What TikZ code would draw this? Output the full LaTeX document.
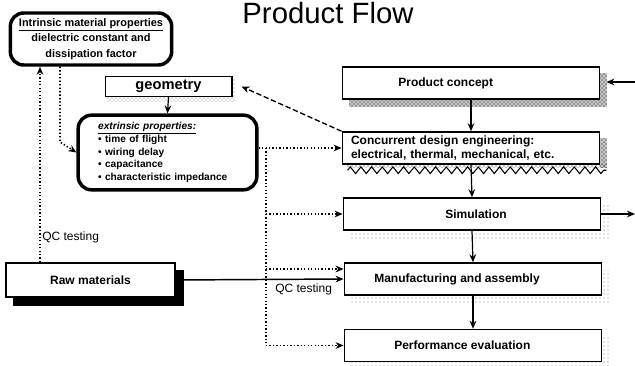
\documentclass[tikz,border=0pt]{standalone}
\usepackage{fontspec}
\setmainfont{Liberation Sans}
\usetikzlibrary{arrows.meta,patterns,calc,backgrounds,decorations.pathmorphing}

\begin{document}
\begin{tikzpicture}[x=0.75pt,y=0.75pt,yscale=-1,xscale=1,
    flowbox/.style={draw, line width=1.1pt, fill=white, minimum width=193pt, minimum height=24pt, inner sep=0pt, font=\bfseries\fontsize{9}{11}\selectfont},
    propbox/.style={draw, line width=2.6pt, rounded corners=10pt, fill=white, inner sep=0pt, font=\bfseries\fontsize{8.2}{11.5}\selectfont},
    qcline/.style={line width=1.2pt, dash pattern=on 1pt off 1.6pt},
    tip/.style={-{Stealth[length=6pt,width=5pt]}}]
    \path[use as bounding box] (0,0) rectangle (635,366);

    % Text Node
    \node (title) at (328,13) {\fontsize{22}{24}\selectfont Product Flow};

    %Shape: Rounded Rect
    \node (intr) [propbox, minimum width=121pt, minimum height=39pt, align=center] at (91,39)
        {\underline{Intrinsic material properties}\\dielectric constant and\\dissipation factor};
    %Shape: Rectangle
    \node (geo) [draw, line width=1pt, fill=white, minimum width=95pt, minimum height=15pt, inner sep=0pt, font=\bfseries\fontsize{11}{12}\selectfont] at (168.5,86.5) {geometry};
    %Shape: Rounded Rect
    \node (extr) [propbox, text width=104pt, inner xsep=15pt, minimum height=56pt, align=left, font=\bfseries\fontsize{7.6}{9.6}\selectfont] at (167.5,152.5)
        {\underline{\textit{extrinsic properties:}}\\\textbullet{} time of flight\\\textbullet{} wiring delay\\\textbullet{} capacitance\\\textbullet{} characteristic impedance};
    %Shape: Rectangle
    \node (raw) [flowbox, minimum width=127pt, minimum height=25.5pt] at (90.5,280) {Raw materials};

    %Shape: Rectangle
    \node (pc) [flowbox] at (471,83) {\hspace*{-38pt}Product concept};
    \node (cde) [flowbox, align=left, text width=180pt] at (471,148) {Concurrent design engineering:\\electrical, thermal, mechanical, etc.};
    \node (sim) [flowbox] at (472,214) {\hspace*{6pt}Simulation};
    \node (mfg) [flowbox] at (473,279) {\hspace*{-24pt}Manufacturing and assembly};
    \node (perf) [flowbox] at (473,345.5) {\hspace*{-16pt}Performance evaluation};

    %Shadows
    \begin{pgfonlayer}{background}
        \fill [gray!45] ($(pc.north west)+(7,7)$) rectangle ($(pc.south east)+(7,7)$);
        \fill [pattern=crosshatch dots] ($(pc.north west)+(7,7)$) rectangle ($(pc.south east)+(7,7)$);
        \fill [gray!45] ($(cde.north east)+(0,7)$) rectangle ($(cde.south east)+(7,3)$);
        \fill [pattern=crosshatch dots] ($(cde.north east)+(0,7)$) rectangle ($(cde.south east)+(7,3)$);
        \fill [pattern=crosshatch dots] ($(cde.south west)+(5,0)$) rectangle ($(cde.south east)+(7,3)$);
        \draw [decorate, decoration={zigzag, segment length=8pt, amplitude=2.5pt}, line width=0.8pt] ($(cde.south west)+(6,5.5)$) -- ($(cde.south east)+(6,5.5)$);
        \fill [pattern=dots, pattern color=gray] ($(sim.north west)+(8,8)$) rectangle ($(sim.south east)+(8,8)$);
        \fill [pattern=dots, pattern color=gray] ($(mfg.north west)+(8,8)$) rectangle ($(mfg.south east)+(8,8)$);
        \fill [pattern=dots, pattern color=gray] ($(perf.north west)+(8,8)$) rectangle ($(perf.south east)+(8,8)$);
        \fill [black] ($(raw.north west)+(8,8)$) rectangle ($(raw.south east)+(8,8)$);
        \fill [pattern=crosshatch dots, pattern color=gray] ($(geo.north west)+(3,4)$) rectangle ($(geo.south east)+(3,4)$);
    \end{pgfonlayer}

    %Flow arrows
    \draw [tip, line width=0.9pt] (pc.south) -- (cde.north);
    \draw [tip, line width=0.9pt] (cde.south) -- (sim.north);
    \draw [tip, line width=0.9pt] (sim.south) -- (mfg.north);
    \draw [tip, line width=0.9pt] (mfg.south) -- (perf.north);
    \draw [tip, line width=0.9pt] (geo.south) -- (extr.north);
    \coordinate (inR) at (635,82);
    \coordinate (outR) at (635,214);
    \draw [tip, line width=0.9pt] (inR) -- ($(pc.east)+(6,-1)$);
    \draw [tip, line width=0.9pt] (sim.east) -- (outR);
    \draw [tip, line width=1.1pt] (raw.east) -- (mfg.west);
    \draw [tip, line width=1pt, dash pattern=on 4pt off 2pt] (cde.north west) -- ($(geo.east)+(9,0)$);

    %QC testing lines
    \coordinate (qa) at (40,0);
    \coordinate (qb) at (60,142);
    \coordinate (tap) at (266,0);
    \draw [qcline, tip] (qa |- raw.north) -- (qa |- intr.south);
    \draw [qcline, tip] (qb |- intr.south) -- (qb) -- (extr.west);
    \draw [qcline, tip] (extr.east |- cde.west) -- (cde.west);
    \draw [qcline] (tap |- cde.west) -- (tap |- perf.west);
    \draw [qcline, tip] (tap |- sim.west) -- (sim.west);
    \draw [qcline, tip] (tap |- 0,269) -- (mfg.west |- 0,269);
    \draw [qcline, tip] (tap |- perf.west) -- (perf.west);

    % Text Node
    \node (qcl) [anchor=west, inner sep=0.75pt, font=\fontsize{9}{10}\selectfont] at (41,237) {QC testing};
    \node (qcr) [anchor=north west, inner sep=0.75pt, font=\fontsize{9}{10}\selectfont] at (274,283) {QC testing};
\end{tikzpicture}
\end{document}
